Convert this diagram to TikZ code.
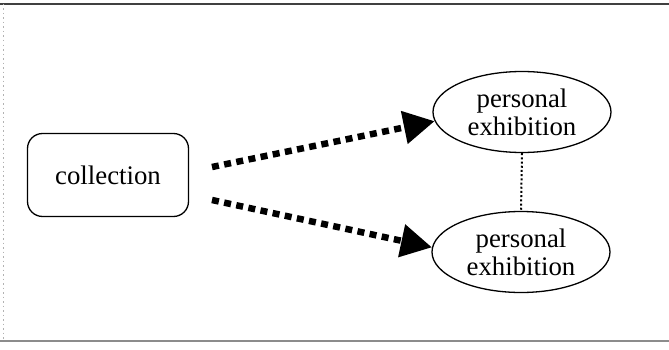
\documentclass[tikz,border=0pt]{standalone}
\usepackage{fontspec}
\setmainfont{Liberation Serif}
\usetikzlibrary{arrows.meta,shapes.geometric}
\begin{document}
\begin{tikzpicture}[x=1pt,y=1pt,
  label text/.style={font=\fontsize{26.8}{28}\selectfont, align=center, text=black},
  roundbox/.style={draw=black, line width=1.3pt, rounded corners=15pt,
    minimum width=161pt, minimum height=83pt, label text},
  oval/.style={ellipse, draw=black, line width=1.3pt,
    minimum width=178pt, minimum height=81pt, inner sep=0pt, label text},
  bigdots/.style={line width=6.5pt, dash pattern=on 7pt off 5.4pt,
    -{Triangle[length=31pt,width=32pt]}},
  smalldots/.style={line width=2pt, dash pattern=on 2pt off 2.2pt},
  frame/.style={line width=2.4pt, draw=black!75}
]
\useasboundingbox (0,0) rectangle (669,349);
\fill[white] (0,0) rectangle (669,349);

% page frame
\draw[frame] (0,345) -- (669,345);
\draw[line width=1.4pt, draw=black!45] (0,8) -- (669,8);
\draw[line width=1pt, draw=black!30, dash pattern=on 1.5pt off 3pt] (3,345) -- (3,8);

% nodes
\node[roundbox] (coll) at (108,174) {collection};
\node[oval] (pe1) at (522,237) {personal\\exhibition};
\node[oval] (pe2) at (521,97) {personal\\exhibition};

% connectors
\coordinate (s1) at (212,182);
\coordinate (s2) at (212,149);
\draw[bigdots] (s1) -- (pe1.186);
\draw[bigdots] (s2) -- (pe2.177);
\draw[smalldots] (pe1.south) -- (pe2.north);
\end{tikzpicture}
\end{document}
